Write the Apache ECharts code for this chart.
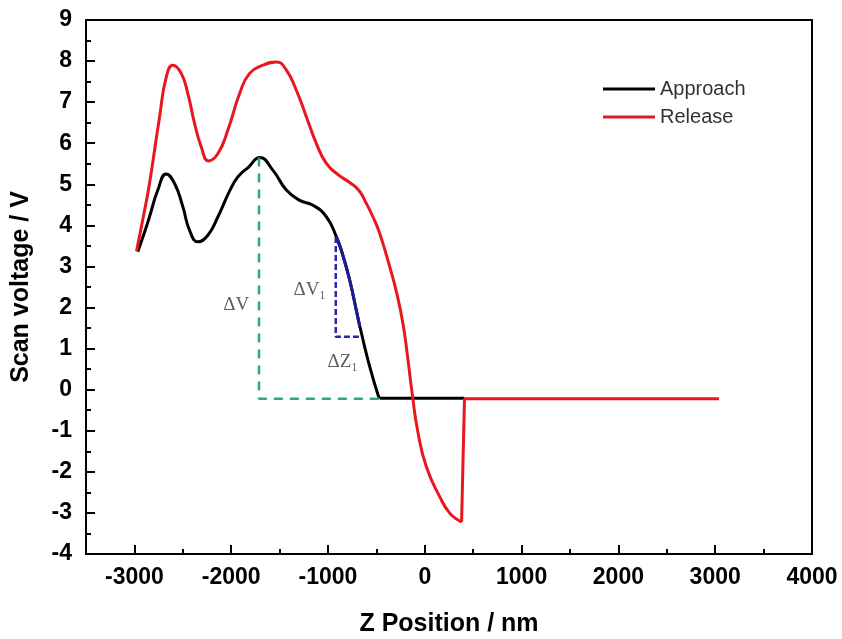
<!DOCTYPE html>
<html>
<head>
<meta charset="utf-8">
<script src="https://cdn.jsdelivr.net/npm/echarts@6/dist/echarts.min.js"></script>
<style>
  html, body { margin: 0; padding: 0; background: #fff; }
  #chart { width: 842px; height: 639px; }
</style>
</head>
<body>
<div id="chart"></div>
<script>
// Approach curve (Z nm, V)
var approachCurve = [
  [-2965, 3.36], [-2900, 3.80], [-2844, 4.21], [-2758, 4.86], [-2671, 5.25], [-2585, 5.02],
  [-2499, 4.45], [-2430, 3.88], [-2344, 3.60], [-2241, 3.76], [-2137, 4.21], [-2016, 4.84],
  [-1931, 5.18], [-1820, 5.42], [-1706, 5.65], [-1568, 5.34], [-1430, 4.86], [-1293, 4.61],
  [-1155, 4.49], [-1017, 4.21], [-913, 3.72], [-850, 3.30], [-776, 2.67], [-700, 1.85],
  [-638, 1.21], [-569, 0.56], [-483, -0.13], [-465, -0.21]
];
var approachFlat = [[-465, -0.21], [410, -0.21]];

// Release curve
var releaseCurve = [
  [-2978, 3.37], [-2900, 4.30], [-2844, 5.02], [-2740, 6.64], [-2671, 7.61], [-2603, 7.90],
  [-2516, 7.70], [-2448, 7.21], [-2378, 6.48], [-2309, 5.91], [-2234, 5.57], [-2137, 5.75],
  [-2034, 6.32], [-1913, 7.21], [-1810, 7.70], [-1672, 7.90], [-1534, 7.98], [-1430, 7.78],
  [-1327, 7.29], [-1223, 6.64], [-1120, 5.99], [-1017, 5.51], [-900, 5.24], [-780, 5.05],
  [-680, 4.85], [-603, 4.53], [-530, 4.18], [-465, 3.80], [-362, 2.99], [-290, 2.35],
  [-225, 1.60], [-175, 0.75], [-130, -0.10], [-70, -1.05], [17, -1.88], [155, -2.61],
  [259, -3.01], [362, -3.20], [380, -3.22]
];
var releaseTail = [[380, -3.22], [410, -0.22], [3040, -0.22]];

// guide lines
var deltaVGuide = [[-1713, 5.65], [-1713, -0.22], [-465, -0.22]];
var deltaV1Guide = [[-920, 3.72], [-920, 1.29], [-672, 1.29]];
var slopeSegment = [[-913, 3.72], [-850, 3.30], [-776, 2.67], [-700, 1.85], [-672, 1.53]];

var notes = [
  { name: "ΔV", value: [-1947, 2.06] },
  { name: "ΔV₁", value: [-1189, 2.42] },
  { name: "ΔZ₁", value: [-848, 0.68] }
];

var xMajor = [-3000, -2000, -1000, 0, 1000, 2000, 3000, 4000];
var xMinor = [-2500, -1500, -500, 500, 1500, 2500, 3500];

var chart = echarts.init(document.getElementById("chart"));
var labelFont = { fontFamily: "Liberation Sans, Arial", fontWeight: "bold", fontSize: 23, color: "#000" };
var titleFont = { fontFamily: "Liberation Sans, Arial", fontWeight: "bold", fontSize: 25, color: "#000" };
var curveSmooth = 0.5;

var option = {
  animation: false,
  grid: {
    left: 86, right: 30, top: 20, bottom: 85,
    outerBoundsMode: "none",
    show: true, borderColor: "#000", borderWidth: 2
  },
  legend: {
    data: ["Approach", "Release"],
    orient: "vertical",
    left: 598, top: 74,
    icon: "rect",
    itemWidth: 52, itemHeight: 3, itemGap: 8,
    textStyle: { fontFamily: "Liberation Sans, Arial", fontSize: 20, color: "#333" }
  },
  xAxis: [
    {
      type: "value", min: -3500, max: 4000,
      name: "Z Position / nm", nameLocation: "middle", nameGap: 58,
      nameTextStyle: titleFont,
      axisLine: { onZero: false, lineStyle: { color: "#000", width: 2 } },
      axisTick: { inside: true, length: 9, customValues: xMajor, lineStyle: { color: "#000", width: 2 } },
      axisLabel: Object.assign({ customValues: xMajor, margin: 12, formatter: function (v) { return String(v); } }, labelFont),
      splitLine: { show: false }
    },
    {
      type: "value", min: -3500, max: 4000, position: "bottom",
      axisLine: { show: false, onZero: false },
      axisTick: { inside: true, length: 5, customValues: xMinor, lineStyle: { color: "#000", width: 2 } },
      axisLabel: { show: false },
      splitLine: { show: false }
    }
  ],
  yAxis: {
    type: "value", min: -4, max: 9, interval: 1,
    name: "Scan voltage / V", nameLocation: "middle", nameGap: 52,
    nameTextStyle: titleFont,
    axisLine: { show: true, onZero: false, lineStyle: { color: "#000", width: 2 } },
    axisTick: { inside: true, length: 9, lineStyle: { color: "#000", width: 2 } },
    minorTick: { show: true, splitNumber: 2, length: 5, lineStyle: { color: "#000", width: 2 } },
    axisLabel: Object.assign({ margin: 14 }, labelFont),
    splitLine: { show: false }
  },
  series: [
    {
      name: "Approach", type: "line", data: approachCurve, smooth: curveSmooth,
      symbol: "none", lineStyle: { color: "#000", width: 3 }, itemStyle: { color: "#000" }
    },
    {
      name: "Approach", type: "line", data: approachFlat,
      symbol: "none", lineStyle: { color: "#000", width: 3 }, itemStyle: { color: "#000" }
    },
    {
      type: "line", data: deltaVGuide, symbol: "none",
      lineStyle: { color: "#2eaa6e", width: 2.5, type: [9, 7] }
    },
    {
      type: "line", data: deltaV1Guide, symbol: "none",
      lineStyle: { color: "#2626b8", width: 2.5, type: [6, 3] }
    },
    {
      type: "line", data: slopeSegment, smooth: curveSmooth, symbol: "none",
      lineStyle: { color: "#1c1c9a", width: 3 }
    },
    {
      name: "Release", type: "line", data: releaseCurve, smooth: curveSmooth,
      symbol: "none", lineStyle: { color: "#e8161d", width: 3 }, itemStyle: { color: "#e8161d" }
    },
    {
      name: "Release", type: "line", data: releaseTail,
      symbol: "none", lineStyle: { color: "#e8161d", width: 3 }, itemStyle: { color: "#e8161d" }
    },
    {
      type: "scatter", data: notes, symbolSize: 1, itemStyle: { color: "rgba(0,0,0,0)" },
      label: {
        show: true, position: "inside", formatter: "{b}",
        fontFamily: "Liberation Serif, DejaVu Serif, serif", fontSize: 19, color: "#333"
      }
    }
  ]
};
chart.setOption(option);
</script>
</body>
</html>
